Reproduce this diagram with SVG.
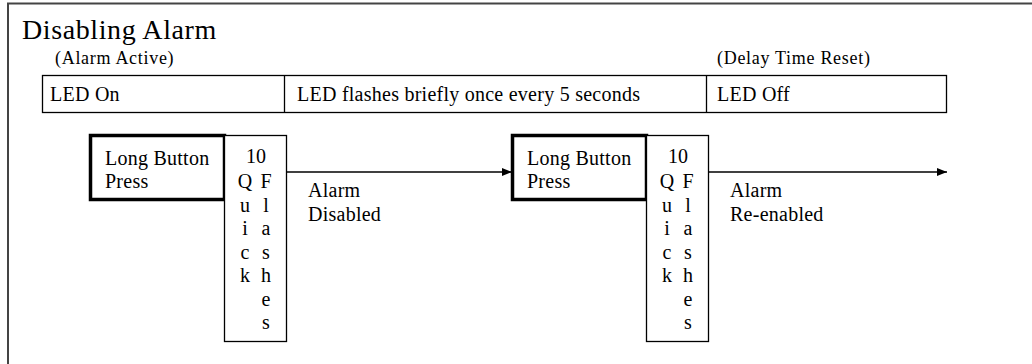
<svg xmlns="http://www.w3.org/2000/svg" width="1032" height="364" viewBox="0 0 1032 364">
<defs>
<style>
.s{font-family:"Liberation Serif","Times New Roman",serif;fill:#000}
.t20{font-size:20px;letter-spacing:0.25px}
.t18{font-size:18px;letter-spacing:0.7px}
.ttl{font-size:28px;letter-spacing:0.6px}
.thin{fill:#fff;stroke:#000;stroke-width:1.3}
.thick{fill:#fff;stroke:#000;stroke-width:3.5}
.col{font-size:20px;text-anchor:middle;letter-spacing:0.1px}
</style>
<marker id="ah" markerWidth="10" markerHeight="8" refX="10" refY="4" orient="auto" markerUnits="userSpaceOnUse">
<path d="M0,0 L10,4 L0,8 Z" fill="#000"/>
</marker>
</defs>
<rect x="0" y="0" width="1032" height="364" fill="#fff"/>
<rect x="8" y="3.5" width="1040" height="380" fill="none" stroke="#444" stroke-width="2"/>
<g class="s" font-family="Liberation Serif, serif">
<text class="ttl" x="22" y="39">Disabling Alarm</text>
<text class="t18" x="55" y="64">(Alarm Active)</text>
<text class="t18" x="717" y="64">(Delay Time Reset)</text>
<g id="timeline">
<rect class="thin" x="42.5" y="75.5" width="904" height="37"/>
<line x1="284.5" y1="75.5" x2="284.5" y2="112.5" stroke="#000" stroke-width="1.3"/>
<line x1="706.5" y1="75.5" x2="706.5" y2="112.5" stroke="#000" stroke-width="1.3"/>
<text class="t20" x="50" y="101">LED On</text>
<text class="t20" x="297" y="101">LED flashes briefly once every 5 seconds</text>
<text class="t20" x="717" y="101">LED Off</text>
</g>
<g id="connectors">
<line x1="286" y1="172" x2="512" y2="172" stroke="#000" stroke-width="1.3" marker-end="url(#ah)"/>
<line x1="708" y1="172" x2="947" y2="172" stroke="#000" stroke-width="1.3" marker-end="url(#ah)"/>
<text class="t20" x="308" y="197">Alarm</text>
<text class="t20" x="308" y="221">Disabled</text>
<text class="t20" x="730" y="197">Alarm</text>
<text class="t20" x="730" y="221">Re-enabled</text>
</g>
<g id="press1">
<rect class="thick" x="90.5" y="135.5" width="134" height="64"/>
<text class="t20" x="105" y="165">Long Button</text>
<text class="t20" x="105" y="188">Press</text>
</g>
<g id="flash1">
<rect class="thin" x="224.5" y="135.5" width="62" height="206"/>
<text class="col" x="256" y="163">10</text>
<text class="col" x="245"><tspan x="245" y="188">Q</tspan><tspan x="245" y="211.5">u</tspan><tspan x="245" y="235">i</tspan><tspan x="245" y="258.5">c</tspan><tspan x="245" y="282">k</tspan></text>
<text class="col" x="266"><tspan x="266" y="188">F</tspan><tspan x="266" y="211.5">l</tspan><tspan x="266" y="235">a</tspan><tspan x="266" y="258.5">s</tspan><tspan x="266" y="282">h</tspan><tspan x="266" y="305.5">e</tspan><tspan x="266" y="329">s</tspan></text>
</g>
<g id="press2">
<rect class="thick" x="512.5" y="135.5" width="134" height="64"/>
<text class="t20" x="527" y="165">Long Button</text>
<text class="t20" x="527" y="188">Press</text>
</g>
<g id="flash2">
<rect class="thin" x="646.5" y="135.5" width="62" height="206"/>
<text class="col" x="678" y="163">10</text>
<text class="col" x="667"><tspan x="667" y="188">Q</tspan><tspan x="667" y="211.5">u</tspan><tspan x="667" y="235">i</tspan><tspan x="667" y="258.5">c</tspan><tspan x="667" y="282">k</tspan></text>
<text class="col" x="688"><tspan x="688" y="188">F</tspan><tspan x="688" y="211.5">l</tspan><tspan x="688" y="235">a</tspan><tspan x="688" y="258.5">s</tspan><tspan x="688" y="282">h</tspan><tspan x="688" y="305.5">e</tspan><tspan x="688" y="329">s</tspan></text>
</g>
</g>
</svg>
